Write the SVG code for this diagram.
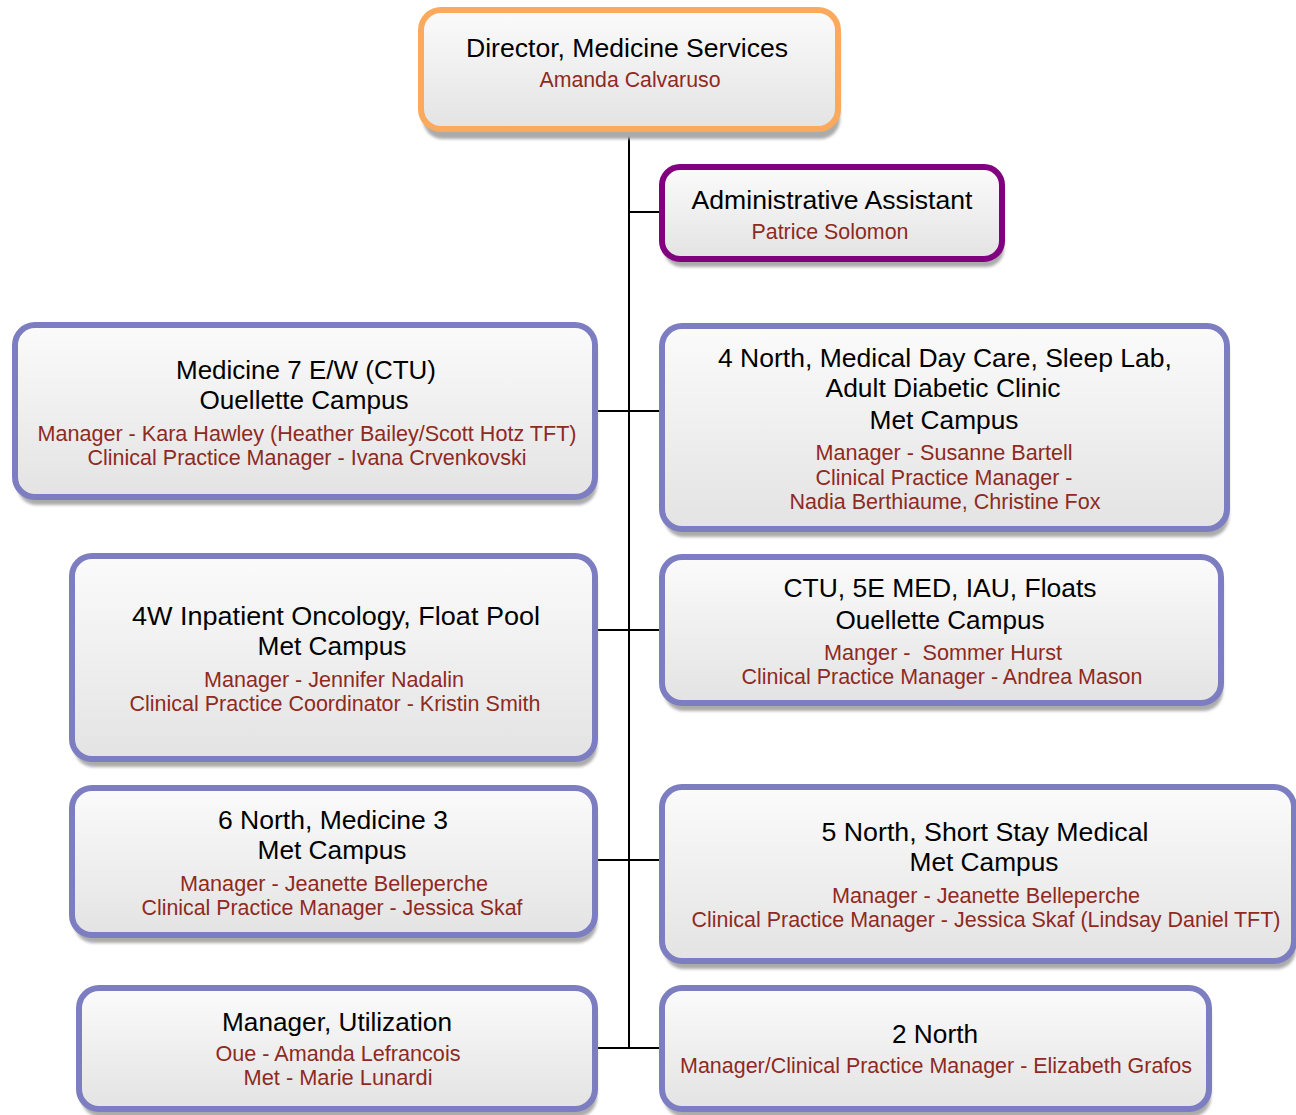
<svg xmlns="http://www.w3.org/2000/svg" width="1296" height="1115" viewBox="0 0 1296 1115">
<defs>
<linearGradient id="g" x1="0" y1="0" x2="0" y2="1">
<stop offset="0" stop-color="#fbfbfb"/>
<stop offset="1" stop-color="#e3e3e3"/>
</linearGradient>
<filter id="blur" x="-5%" y="-10%" width="110%" height="130%"><feGaussianBlur stdDeviation="1.5"/></filter>
<style>
.box{fill:url(#g);stroke-width:6}
.sh{fill:#ababab;filter:url(#blur)}
.or{stroke:#fba95c}
.pu{stroke:#800080}
.bl{stroke:#7d7dc1}
.t{font-family:"Liberation Sans",Arial,sans-serif;font-size:26px;fill:#000;text-anchor:middle}
.r{font-family:"Liberation Sans",Arial,sans-serif;font-size:22px;fill:#8e2a1f;text-anchor:middle}
.c{stroke:#000;stroke-width:2;fill:none}
</style>
</defs>
<rect width="1296" height="1115" fill="#fff"/>
<g id="connectors">
<line class="c" x1="629" y1="132" x2="629" y2="1049"/>
<line class="c" x1="628" y1="212" x2="662" y2="212"/>
<line class="c" x1="597" y1="411" x2="662" y2="411"/>
<line class="c" x1="597" y1="630" x2="662" y2="630"/>
<line class="c" x1="597" y1="860" x2="662" y2="860"/>
<line class="c" x1="597" y1="1048" x2="662" y2="1048"/>
</g>
<g id="director">
<rect class="sh" x="423" y="18" width="417" height="121" rx="20"/>
<rect class="box or" x="421" y="10" width="417" height="119" rx="20"/>
<text class="t" x="627" y="57" textLength="322" lengthAdjust="spacingAndGlyphs">Director, Medicine Services</text>
<text class="r" x="630" y="87" textLength="181" lengthAdjust="spacingAndGlyphs">Amanda Calvaruso</text>
</g>
<g id="admin">
<rect class="sh" x="664" y="175" width="340" height="92" rx="18"/>
<rect class="box pu" x="662" y="167" width="340" height="92" rx="18"/>
<text class="t" x="832" y="209" textLength="281" lengthAdjust="spacingAndGlyphs">Administrative Assistant</text>
<text class="r" x="830" y="239" textLength="157" lengthAdjust="spacingAndGlyphs">Patrice Solomon</text>
</g>
<g id="med7">
<rect class="sh" x="17" y="333" width="580" height="172" rx="20"/>
<rect class="box bl" x="15" y="325" width="580" height="172" rx="20"/>
<text class="t" x="306" y="379" textLength="260" lengthAdjust="spacingAndGlyphs">Medicine 7 E/W (CTU)</text>
<text class="t" x="304" y="409" textLength="209" lengthAdjust="spacingAndGlyphs">Ouellette Campus</text>
<text class="r" x="307" y="441" textLength="539" lengthAdjust="spacingAndGlyphs">Manager - Kara Hawley (Heather Bailey/Scott Hotz TFT)</text>
<text class="r" x="307" y="465" textLength="439" lengthAdjust="spacingAndGlyphs">Clinical Practice Manager - Ivana Crvenkovski</text>
</g>
<g id="north4">
<rect class="sh" x="664" y="334" width="565" height="203" rx="20"/>
<rect class="box bl" x="662" y="326" width="565" height="203" rx="20"/>
<text class="t" x="945" y="367" textLength="454" lengthAdjust="spacingAndGlyphs">4 North, Medical Day Care, Sleep Lab,</text>
<text class="t" x="943" y="397" textLength="235" lengthAdjust="spacingAndGlyphs">Adult Diabetic Clinic</text>
<text class="t" x="944" y="429" textLength="149" lengthAdjust="spacingAndGlyphs">Met Campus</text>
<text class="r" x="944" y="460" textLength="257" lengthAdjust="spacingAndGlyphs">Manager - Susanne Bartell</text>
<text class="r" x="944" y="485" textLength="257" lengthAdjust="spacingAndGlyphs">Clinical Practice Manager -</text>
<text class="r" x="945" y="509" textLength="311" lengthAdjust="spacingAndGlyphs">Nadia Berthiaume, Christine Fox</text>
</g>
<g id="w4">
<rect class="sh" x="74" y="564" width="523" height="203" rx="20"/>
<rect class="box bl" x="72" y="556" width="523" height="203" rx="20"/>
<text class="t" x="336" y="625" textLength="408" lengthAdjust="spacingAndGlyphs">4W Inpatient Oncology, Float Pool</text>
<text class="t" x="332" y="655" textLength="149" lengthAdjust="spacingAndGlyphs">Met Campus</text>
<text class="r" x="334" y="687" textLength="260" lengthAdjust="spacingAndGlyphs">Manager - Jennifer Nadalin</text>
<text class="r" x="335" y="711" textLength="411" lengthAdjust="spacingAndGlyphs">Clinical Practice Coordinator - Kristin Smith</text>
</g>
<g id="ctu">
<rect class="sh" x="664" y="565" width="559" height="146" rx="20"/>
<rect class="box bl" x="662" y="557" width="559" height="146" rx="20"/>
<text class="t" x="940" y="597" textLength="313" lengthAdjust="spacingAndGlyphs">CTU, 5E MED, IAU, Floats</text>
<text class="t" x="940" y="629" textLength="209" lengthAdjust="spacingAndGlyphs">Ouellette Campus</text>
<text class="r" x="943" y="660" textLength="238" lengthAdjust="spacingAndGlyphs" xml:space="preserve">Manger -  Sommer Hurst</text>
<text class="r" x="942" y="684" textLength="401" lengthAdjust="spacingAndGlyphs">Clinical Practice Manager - Andrea Mason</text>
</g>
<g id="north6">
<rect class="sh" x="74" y="796" width="523" height="147" rx="20"/>
<rect class="box bl" x="72" y="788" width="523" height="147" rx="20"/>
<text class="t" x="333" y="829" textLength="230" lengthAdjust="spacingAndGlyphs">6 North, Medicine 3</text>
<text class="t" x="332" y="859" textLength="149" lengthAdjust="spacingAndGlyphs">Met Campus</text>
<text class="r" x="334" y="891" textLength="308" lengthAdjust="spacingAndGlyphs">Manager - Jeanette Belleperche</text>
<text class="r" x="332" y="915" textLength="381" lengthAdjust="spacingAndGlyphs">Clinical Practice Manager - Jessica Skaf</text>
</g>
<g id="north5">
<rect class="sh" x="664" y="795" width="632" height="174" rx="20"/>
<rect class="box bl" x="662" y="787" width="632" height="174" rx="20"/>
<text class="t" x="985" y="841" textLength="327" lengthAdjust="spacingAndGlyphs">5 North, Short Stay Medical</text>
<text class="t" x="984" y="871" textLength="149" lengthAdjust="spacingAndGlyphs">Met Campus</text>
<text class="r" x="986" y="903" textLength="308" lengthAdjust="spacingAndGlyphs">Manager - Jeanette Belleperche</text>
<text class="r" x="986" y="927" textLength="589" lengthAdjust="spacingAndGlyphs">Clinical Practice Manager - Jessica Skaf (Lindsay Daniel TFT)</text>
</g>
<g id="util">
<rect class="sh" x="81" y="996" width="516" height="121" rx="20"/>
<rect class="box bl" x="79" y="988" width="516" height="121" rx="20"/>
<text class="t" x="337" y="1031" textLength="230" lengthAdjust="spacingAndGlyphs">Manager, Utilization</text>
<text class="r" x="338" y="1061" textLength="245" lengthAdjust="spacingAndGlyphs">Oue - Amanda Lefrancois</text>
<text class="r" x="338" y="1085" textLength="189" lengthAdjust="spacingAndGlyphs">Met - Marie Lunardi</text>
</g>
<g id="north2">
<rect class="sh" x="664" y="996" width="547" height="121" rx="20"/>
<rect class="box bl" x="662" y="988" width="547" height="121" rx="20"/>
<text class="t" x="935" y="1043" textLength="86" lengthAdjust="spacingAndGlyphs">2 North</text>
<text class="r" x="936" y="1073" textLength="512" lengthAdjust="spacingAndGlyphs">Manager/Clinical Practice Manager - Elizabeth Grafos</text>
</g>
</svg>
